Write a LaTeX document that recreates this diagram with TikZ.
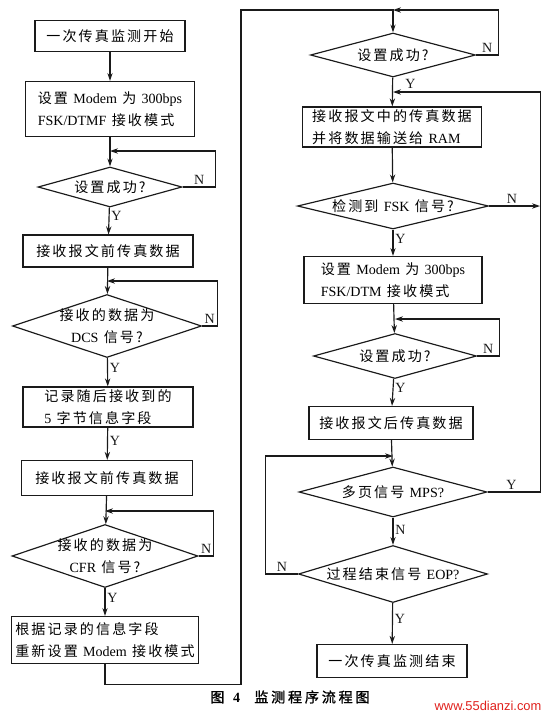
\documentclass[tikz,border=0pt]{standalone}
\usepackage{fontspec}
\usepackage{tikz}
\usetikzlibrary{shapes.geometric, arrows.meta, positioning, calc}
\setmainfont{Liberation Serif}
\newfontfamily\cjk[LetterSpace=15]{Noto Sans CJK SC}
\newfontfamily\cjkcap[LetterSpace=20,FakeBold=1.5]{Noto Sans CJK SC}
\newfontfamily\ltn{Liberation Serif}
\newfontfamily\webfont{Liberation Sans}
\newcommand{\latn}[1]{{\ltn #1}}
\definecolor{fxInk}{HTML}{1A1A1A}
\definecolor{fxRed}{HTML}{E0201C}
\tikzset{
  fxflow/.style={-{Stealth[length=2.4mm, width=1.6mm]}, line width=1pt, color=fxInk},
  fxnote/.style={font=\ltn\fontsize{12}{14}\selectfont, text=fxInk, inner sep=1.5pt},
}

\begin{document}
\begin{tikzpicture}[x=0.03cm, y=-0.03cm, font=\cjk\fontsize{12}{19}\selectfont,
  flowbox/.style={rectangle, draw=fxInk, line width=1pt, align=left, inner sep=2pt},
  flowcheck/.style={diamond, draw=fxInk, line width=1pt, align=center, inner sep=0pt}]
  \useasboundingbox (0,0) rectangle (549,718);
  \node[flowbox, minimum width=4.5cm, minimum height=0.93cm](s1) at (110,36){一次传真监测开始};
  \node[flowbox, minimum width=5.07cm, minimum height=1.65cm](s2) at (110,109){设置 \latn{Modem} 为 \latn{300bps}\\\latn{FSK/DTMF} 接收模式};
  \node[flowcheck, minimum width=4.32cm, minimum height=1.2cm, aspect=3.6](d1) at (110,187){设置成功?};
  \node[flowbox, minimum width=5.1cm, minimum height=0.96cm](s3) at (108,251){接收报文前传真数据};
  \node[flowcheck, minimum width=5.67cm, minimum height=1.89cm, aspect=3, inner ysep=-4pt](d2) at (107,326){接收的数据为\\\latn{DCS} 信号?};
  \node[flowbox, minimum width=5.1cm, minimum height=1.14cm](s4) at (108,407){记录随后接收到的\\\latn{5} 字节信息字段};
  \node[flowbox, minimum width=5.13cm, minimum height=1.05cm](s5) at (107,478){接收报文前传真数据};
  \node[flowcheck, minimum width=5.58cm, minimum height=1.89cm, aspect=2.95, inner ysep=-4pt](d3) at (105,556){接收的数据为\\\latn{CFR} 信号?};
  \node[flowbox, minimum width=5.61cm, minimum height=1.41cm](s6) at (105,640){根据记录的信息字段\\重新设置 \latn{Modem} 接收模式};
  \node[flowcheck, minimum width=4.95cm, minimum height=1.32cm, aspect=3.75](r1) at (393,55){设置成功?};
  \node[flowbox, minimum width=5.37cm, minimum height=1.2cm](r2) at (392,127){接收报文中的传真数据\\并将数据输送给 \latn{RAM}};
  \node[flowcheck, minimum width=5.73cm, minimum height=1.38cm, aspect=4.15](r3) at (393,206){检测到 \latn{FSK} 信号?};
  \node[flowbox, minimum width=5.34cm, minimum height=1.41cm](r4) at (393,280){设置 \latn{Modem} 为 \latn{300bps}\\\latn{FSK/DTM} 接收模式};
  \node[flowcheck, minimum width=4.89cm, minimum height=1.35cm, aspect=3.6](r5) at (395,356){设置成功?};
  \node[flowbox, minimum width=4.92cm, minimum height=0.99cm](r6) at (391,423){接收报文后传真数据};
  \node[flowcheck, minimum width=5.64cm, minimum height=1.5cm, aspect=3.76](r7) at (393,492){多页信号 \latn{MPS?}};
  \node[flowcheck, minimum width=5.67cm, minimum height=1.71cm, aspect=3.3](r8) at (393,574){过程结束信号 \latn{EOP?}};
  \node[flowbox, minimum width=4.5cm, minimum height=0.99cm](r9) at (392,661){一次传真监测结束};
  \node[font=\cjkcap\fontsize{12}{14}\selectfont](cap) at (290,697){图 \latn{\textbf{4}}\quad 监测程序流程图};
  \node[font=\webfont\fontsize{11}{13}\selectfont, text=fxRed](web) at (488,706){www.55dianzi.com};
  \coordinate (j1) at (110,151); \coordinate (j2) at (107,281); \coordinate (j3) at (105,511);
  \coordinate (top) at (393,10); \coordinate (j5) at (393,92); \coordinate (k3) at (540,206);
  \coordinate (j6) at (395,319); \coordinate (j7) at (393,456);
  \draw[fxflow](s1)--(s2);\draw[fxflow](s2)--(d1);
  \draw[fxflow](d1.east)--node[fxnote, above]{N}++(33,0)|-(j1);
  \draw[fxflow](d1)--node[fxnote, right, pos=0.3]{Y}(s3);\draw[fxflow](s3)--(d2);
  \draw[fxflow](d2.east)--node[fxnote, above]{N}++(15,0)|-(j2);
  \draw[fxflow](d2)--node[fxnote, right, pos=0.35]{Y}(s4);
  \draw[fxflow](s4)--node[fxnote, right, pos=0.4]{Y}(s5);\draw[fxflow](s5)--(d3);
  \draw[fxflow](d3.east)--node[fxnote, above]{N}++(15,0)|-(j3);
  \draw[fxflow](d3)--node[fxnote, right, pos=0.35]{Y}(s6);
  \draw[fxflow](s6.south)--++(0,20)-|(241,10)--(top)--(r1.north);
  \draw[fxflow](r1.east)--node[fxnote, above]{N}++(22,0)|-(top);
  \draw[fxflow](r1)--node[fxnote, right, pos=0.22, xshift=9pt]{Y}(r2);\draw[fxflow](r2)--(r3);
  \draw[fxflow](r3.east)--node[fxnote, above, pos=0.45]{N}(k3);
  \draw[fxflow](r3)--node[fxnote, right, pos=0.35]{Y}(r4);\draw[fxflow](r4)--(r5);
  \draw[fxflow](r5.east)--node[fxnote, above]{N}++(22,0)|-(j6);
  \draw[fxflow](r5)--node[fxnote, right, pos=0.35]{Y}(r6);\draw[fxflow](r6)--(r7);
  \draw[fxflow](r7.east)--node[fxnote, above, pos=0.45]{Y}++(53,0)|-(j5);
  \draw[fxflow](r7)--node[fxnote, right, pos=0.45]{N}(r8);
  \draw[fxflow](r8.west)--node[fxnote, above]{N}++(-32,0)|-(j7);
  \draw[fxflow](r8)--node[fxnote, right, pos=0.4]{Y}(r9);
\end{tikzpicture}
\end{document}
